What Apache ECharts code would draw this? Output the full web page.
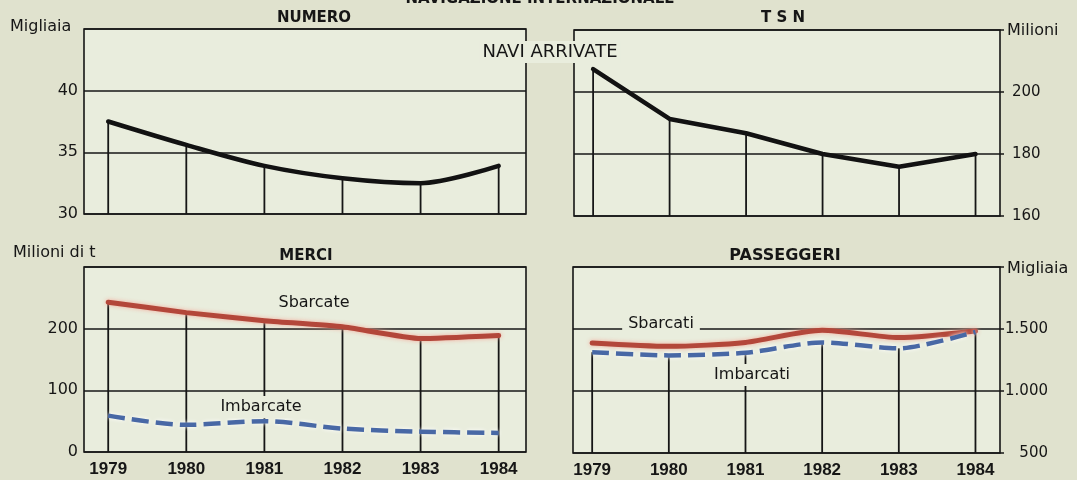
<!DOCTYPE html>
<html>
<head>
<meta charset="utf-8">
<script src="https://cdn.jsdelivr.net/npm/echarts@6/dist/echarts.min.js"></script>
<style>
  html, body { margin: 0; padding: 0; background: #e0e2ce; }
  #chart { width: 1077px; height: 480px; }
</style>
</head>
<body>
<div id="chart"></div>
<script>
// Navigazione internazionale, navi arrivate 1979-1984
const years = [1979, 1980, 1981, 1982, 1983, 1984];

// Numero di navi (migliaia)
const numero = [37.5, 35.6, 33.9, 32.9, 32.5, 33.9];
// Stazza netta (milioni di TSN)
const tsn = [207.4, 191.3, 186.7, 180.0, 175.9, 180.0];
// Merci (milioni di t)
const merciSbarcate = [243, 226, 213, 203, 184, 189];
const merciImbarcate = [59, 44, 50, 38, 33, 31];
// Passeggeri (migliaia)
const passSbarcati = [1387, 1360, 1392, 1490, 1431, 1484];
const passImbarcati = [1313, 1287, 1308, 1392, 1344, 1476];

const panelTitles = ['NUMERO', 'T S N', 'MERCI', 'PASSEGGERI'];
const unitNames = ['Migliaia', 'Milioni', 'Milioni di t', 'Migliaia'];
const header = 'NAVIGAZIONE INTERNAZIONALE';
const subHeader = 'NAVI ARRIVATE';
const seriesNames = { merci: ['Sbarcate', 'Imbarcate'], pass: ['Sbarcati', 'Imbarcati'] };

const INK = '#161616';
const RED = '#b3473a';
const BLUE = '#4868a5';
const PLOT_BG = '#e9eddd';
const SANS = '"DejaVu Sans", sans-serif';

const pairs = arr => years.map((y, i) => [y, arr[i]]);

const chart = echarts.init(document.getElementById('chart'), null, { renderer: 'canvas' });

const grids = [
  { left: 84, top: 29, width: 442, height: 185 },
  { left: 574, top: 30, width: 426, height: 186 },
  { left: 84, top: 267, width: 442, height: 185 },
  { left: 573, top: 267, width: 427, height: 186 }
].map(g => Object.assign(g, {
  show: true, backgroundColor: PLOT_BG, borderColor: INK, borderWidth: 1.6, containLabel: false
}));

function xAxis(gridIndex, min, max, showLabels) {
  return {
    type: 'value', gridIndex, min, max,
    axisLine: { show: false }, axisTick: { show: false }, splitLine: { show: false },
    axisLabel: {
      show: showLabels, customValues: years, margin: 9,
      formatter: v => String(Math.round(v)),
      color: INK, fontFamily: '"Liberation Sans", Arial, sans-serif', fontWeight: 'bold', fontSize: 17
    }
  };
}

function yAxis(gridIndex, position, min, max, interval, fmt, labelOpts) {
  return {
    type: 'value', gridIndex, position, min, max, interval,
    axisLine: { show: false },
    axisTick: position === 'right'
      ? { show: true, length: 4, lineStyle: { color: INK, width: 1.5 } }
      : { show: false },
    splitLine: { show: true, lineStyle: { color: INK, width: 1.6 } },
    axisLabel: Object.assign({
      color: INK, fontFamily: SANS,
      formatter: v => (v >= max ? '' : fmt(v))
    }, labelOpts)
  };
}

const plain = v => String(v);
const dotted = v => v >= 1000 ? String(v).replace(/(\d)(\d{3})$/, '$1.$2') : String(v);

function dropLines(idx, data) {
  return {
    type: 'bar', xAxisIndex: idx, yAxisIndex: idx, data: pairs(data),
    barWidth: 1.8, itemStyle: { color: INK }, silent: true, z: 1, clip: true
  };
}

function line(idx, data, style, smooth) {
  return {
    type: 'line', xAxisIndex: idx, yAxisIndex: idx, data: pairs(data),
    symbol: 'none', silent: true, z: 3, smooth: smooth,
    lineStyle: Object.assign({ cap: 'round', join: 'round' }, style)
  };
}

const blackLine = { color: '#121212', width: 4.5 };
const redLine = { color: RED, width: 5, shadowColor: 'rgba(245,165,150,0.9)', shadowBlur: 4 };
const blueDash = { color: BLUE, width: 4.5, type: [17, 7], cap: 'butt', shadowColor: 'rgba(255,255,255,0.95)', shadowBlur: 4 };

function txt(text, x, y, opts) {
  const o = opts || {};
  return {
    type: 'text', z: 100, silent: true,
    style: Object.assign({
      text, x, y,
      font: (o.weight || 'normal') + ' ' + (o.size || 16) + 'px ' + SANS,
      fill: INK, align: o.align || 'center', verticalAlign: 'middle'
    }, o.bg ? { backgroundColor: PLOT_BG, padding: o.pad || [1, 4] } : {})
  };
}

const option = {
  backgroundColor: '#e0e2ce',
  animation: false,
  grid: grids,
  xAxis: [
    xAxis(0, 1978.69, 1984.35, false),
    xAxis(1, 1978.75, 1984.32, false),
    xAxis(2, 1978.69, 1984.35, true),
    xAxis(3, 1978.75, 1984.32, true)
  ],
  yAxis: [
    yAxis(0, 'left', 30, 45, 5, plain, { fontSize: 16, margin: 6 }),
    yAxis(1, 'right', 160, 220, 20, plain, { fontSize: 15, margin: 12 }),
    yAxis(2, 'left', 0, 300, 100, plain, { fontSize: 16, margin: 6 }),
    yAxis(3, 'right', 500, 2000, 500, dotted, { fontSize: 15, margin: 48, align: 'right' })
  ],
  series: [
    dropLines(0, numero),
    dropLines(1, tsn),
    dropLines(2, merciSbarcate),
    dropLines(3, passImbarcati),
    line(0, numero, blackLine, 0.3),
    line(1, tsn, blackLine, false),
    line(2, merciSbarcate, redLine, 0.15),
    line(2, merciImbarcate, blueDash, 0.3),
    line(3, passSbarcati, redLine, 0.25),
    line(3, passImbarcati, blueDash, 0.25)
  ],
  graphic: [
    txt(header, 540, -1, { weight: 'bold', size: 15 }),
    txt(subHeader, 550, 52, { size: 18, bg: true, pad: [2, 3] }),
    txt(panelTitles[0], 314, 18, { weight: 'bold', size: 15 }),
    txt(panelTitles[1], 783, 18, { weight: 'bold', size: 15 }),
    txt(panelTitles[2], 306, 256, { weight: 'bold', size: 15 }),
    txt(panelTitles[3], 785, 256, { weight: 'bold', size: 16 }),
    txt(unitNames[0], 10, 27, { align: 'left', size: 16 }),
    txt(unitNames[1], 1007, 31, { align: 'left', size: 16 }),
    txt(unitNames[2], 13, 253, { align: 'left', size: 16 }),
    txt(unitNames[3], 1007, 269, { align: 'left', size: 16 }),
    txt(seriesNames.merci[0], 314, 303, { size: 16 }),
    txt(seriesNames.merci[1], 261, 407, { size: 16, bg: true, pad: [3, 3] }),
    txt(seriesNames.pass[0], 661, 324, { size: 16, bg: true, pad: [1, 6] }),
    txt(seriesNames.pass[1], 752, 375, { size: 16, bg: true, pad: [3, 3] })
  ]
};

chart.setOption(option);
</script>
</body>
</html>
